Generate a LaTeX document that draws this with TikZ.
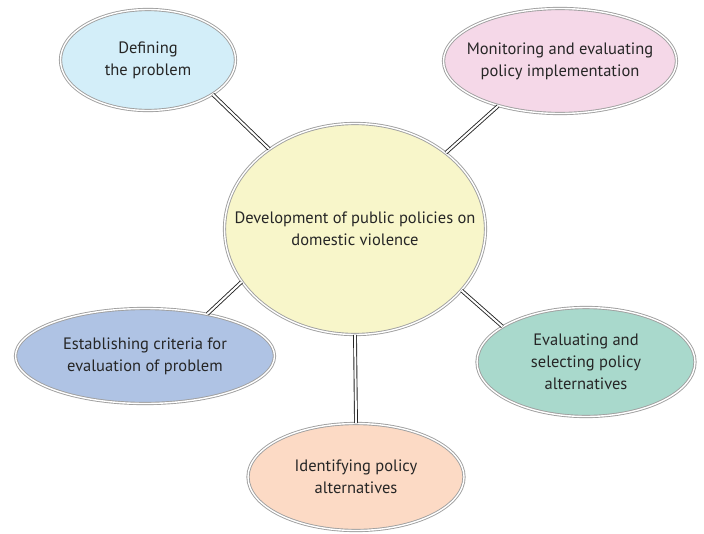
\documentclass[tikz,border=0pt]{standalone}
\usepackage{fontspec}
\setmainfont{PT Sans}
\usetikzlibrary{shapes.geometric}
\definecolor{defcol}{HTML}{D3EEF9}
\definecolor{moncol}{HTML}{F5D8E8}
\definecolor{devcol}{HTML}{F8F6CA}
\definecolor{estcol}{HTML}{AFC3E4}
\definecolor{evalcol}{HTML}{A9D9CC}
\definecolor{idcol}{HTML}{FCDAC5}
\begin{document}
\begin{tikzpicture}[x=1pt,y=-1pt]
\tikzstyle{stage}=[ellipse,draw=gray!75,double=white,double distance=1.4pt,line width=0.9pt,inner sep=0pt]
\tikzstyle{stagetext}=[align=center,text=black!85,inner sep=0pt,font=\fontsize{16.5pt}{22pt}\selectfont]
\tikzstyle{link}=[draw=black!85,double=white,double distance=2pt,line width=0.9pt]
	\useasboundingbox (0,0) rectangle (704,533);

	% stages round the centre
	\node[stage,fill=defcol,minimum width=175,minimum height=101,label={[stagetext]center:Defining\\the problem}] (define) at (148,60) {};
	\node[stage,fill=moncol,minimum width=233,minimum height=105,label={[stagetext]center:Monitoring and evaluating\\policy implementation}] (monitor) at (560,61) {};
	\node[stage,fill=devcol,minimum width=261,minimum height=211,label={[stagetext]center:Development of public policies on\\domestic violence}] (develop) at (355,229) {};
	\node[stage,fill=estcol,minimum width=259,minimum height=95,label={[stagetext]center:Establishing criteria for\\evaluation of problem}] (establish) at (145,356) {};
	\node[stage,fill=evalcol,minimum width=218,minimum height=109,label={[stagetext]center:Evaluating and\\selecting policy\\alternatives}] (evaluate) at (586,362) {};
	\node[stage,fill=idcol,minimum width=216,minimum height=107,label={[stagetext]center:Identifying policy\\alternatives}] (identify) at (356,477) {};

	% links
	\path (develop.137) edge[link] (define.-28);
	\path (develop.40) edge[link] (monitor.216);
	\path (develop.205) edge[link] (establish.34);
	\path (develop.-30) edge[link] (evaluate.157);
	\path (develop.south) edge[link] (identify.north);
\end{tikzpicture}
\end{document}
